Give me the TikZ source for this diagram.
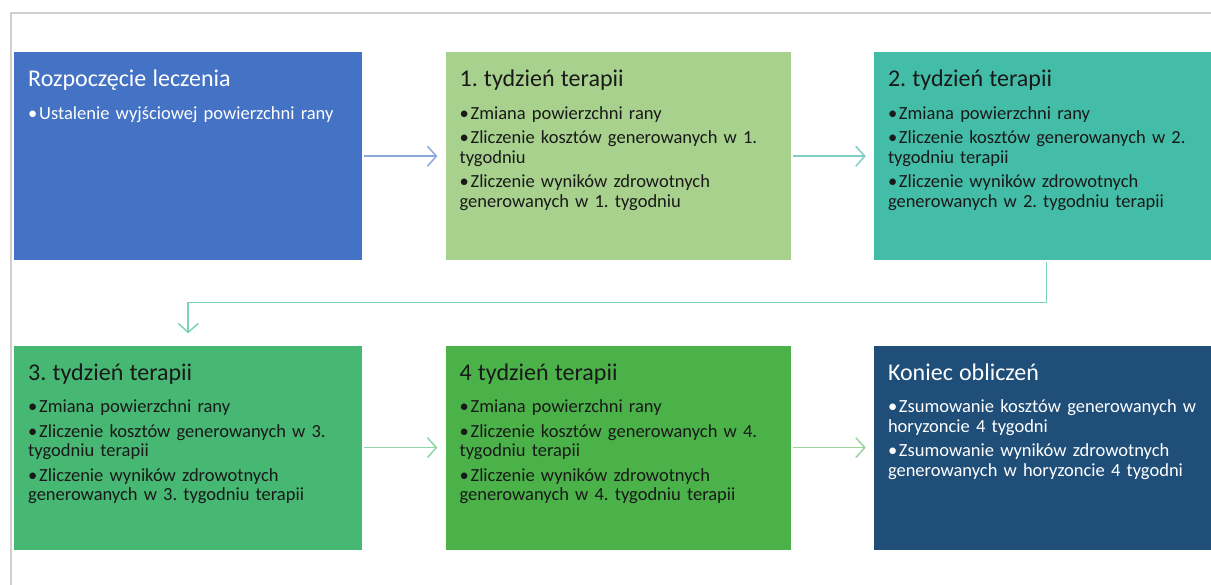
\documentclass[tikz,border=0pt]{standalone}
\usepackage{fontspec}
\setmainfont{Carlito}[WordSpace=0.7]
\usetikzlibrary{positioning,arrows.meta}
\definecolor{framegray}{HTML}{CFCFCF}
\definecolor{startblue}{HTML}{4472C4}
\definecolor{weekone}{HTML}{A9D18E}
\definecolor{weektwo}{HTML}{44BDA8}
\definecolor{weekthree}{HTML}{47B774}
\definecolor{weekfour}{HTML}{4BB249}
\definecolor{endnavy}{HTML}{1F4E79}
\definecolor{linkblue}{HTML}{8EA9DB}
\definecolor{linkteal}{HTML}{80CEC5}
\definecolor{linkmint}{HTML}{7ED3B2}
\definecolor{linkgreen}{HTML}{8ED6A3}
\definecolor{linklime}{HTML}{9ED39B}
\frenchspacing
\newcommand{\stagehead}[1]{{\fontsize{24}{28}\selectfont #1\par}\vspace{13pt}}
\newcommand{\bitem}[1]{\par\hangindent=11pt\hangafter=1\noindent\makebox[11pt][l]{\textbullet}#1\par\vspace{5pt}}

\begin{document}
\begin{tikzpicture}[x=1pt, y=1pt,
    stage/.style={rectangle, inner sep=0pt, minimum width=#1},
    stagetext/.style={anchor=north west, inner sep=0pt, text width=330pt, align=left,
      font=\fontsize{18.5}{19.5}\selectfont},
    link/.style={line width=1.5pt, shorten <=2pt, shorten >=8pt,
      -{Straight Barb[length=9pt, width=20pt, line width=1.5pt]}}]
  \useasboundingbox (0,0) rectangle (1211,-585);
  \draw[framegray, line width=2pt] (11,-585) -- (11,-13) -- (1211,-13);

  \node[stage=348pt, minimum height=208pt, fill=startblue, anchor=north west] (b1) at (14,-52) {};
  \node[stage=345pt, minimum height=208pt, fill=weekone, right=83pt of b1] (b2) {};
  \node[stage=345pt, minimum height=208pt, fill=weektwo, right=83pt of b2] (b3) {};
  \node[stage=348pt, minimum height=204pt, fill=weekthree, below=85pt of b1] (b4) {};
  \node[stage=345pt, minimum height=204pt, fill=weekfour, right=83pt of b4] (b5) {};
  \node[stage=345pt, minimum height=204pt, fill=endnavy, right=83pt of b5] (b6) {};

  \node[stagetext, text=white] (t1) at ([xshift=14pt, yshift=-18pt]b1.north west) {
    \stagehead{Rozpoczęcie leczenia}
    \bitem{Ustalenie wyjściowej powierzchni rany}};
  \node[stagetext, text=black!90] (t2) at ([xshift=14pt, yshift=-18pt]b2.north west) {
    \stagehead{1. tydzień terapii}
    \bitem{Zmiana powierzchni rany}
    \bitem{Zliczenie kosztów generowanych w 1.\\tygodniu}
    \bitem{Zliczenie wyników zdrowotnych\\generowanych w 1. tygodniu}};
  \node[stagetext, text=black!90] (t3) at ([xshift=14pt, yshift=-18pt]b3.north west) {
    \stagehead{2. tydzień terapii}
    \bitem{Zmiana powierzchni rany}
    \bitem{Zliczenie kosztów generowanych w 2.\\tygodniu terapii}
    \bitem{Zliczenie wyników zdrowotnych\\generowanych w 2. tygodniu terapii}};
  \node[stagetext, text=black!90] (t4) at ([xshift=14pt, yshift=-18pt]b4.north west) {
    \stagehead{3. tydzień terapii}
    \bitem{Zmiana powierzchni rany}
    \bitem{Zliczenie kosztów generowanych w 3.\\tygodniu terapii}
    \bitem{Zliczenie wyników zdrowotnych\\generowanych w 3. tygodniu terapii}};
  \node[stagetext, text=black!90] (t5) at ([xshift=14pt, yshift=-18pt]b5.north west) {
    \stagehead{4 tydzień terapii}
    \bitem{Zmiana powierzchni rany}
    \bitem{Zliczenie kosztów generowanych w 4.\\tygodniu terapii}
    \bitem{Zliczenie wyników zdrowotnych\\generowanych w 4. tygodniu terapii}};
  \node[stagetext, text=white] (t6) at ([xshift=14pt, yshift=-18pt]b6.north west) {
    \stagehead{Koniec obliczeń}
    \bitem{Zsumowanie kosztów generowanych w\\horyzoncie 4 tygodni}
    \bitem{Zsumowanie wyników zdrowotnych\\generowanych w horyzoncie 4 tygodni}};

  \draw[link, linkblue] (b1.east) -- (b2.west);
  \draw[link, linkteal] (b2.east) -- (b3.west);
  \draw[link, linkmint, shorten >=12pt] (b3.south) -- ++(0,-42) -| (b4.north);
  \draw[link, linkgreen] (b4.east) -- (b5.west);
  \draw[link, linklime] (b5.east) -- (b6.west);
\end{tikzpicture}
\end{document}
